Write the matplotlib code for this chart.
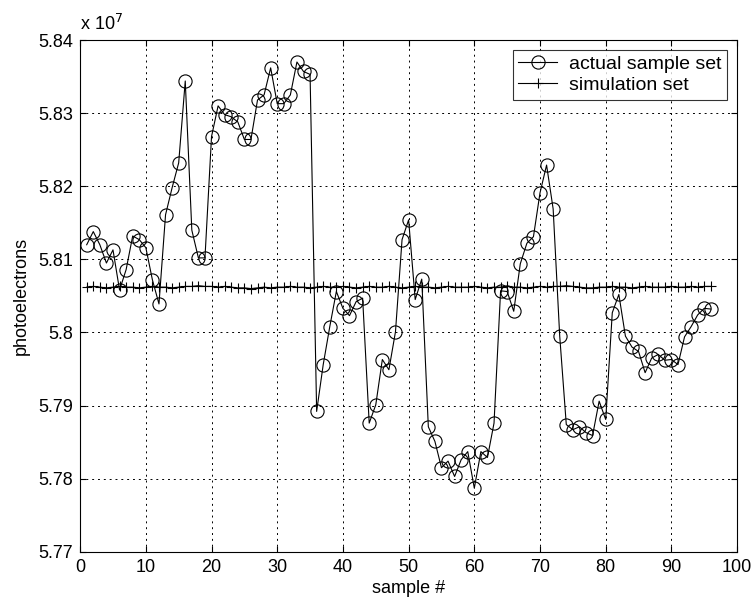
import numpy as np
import matplotlib.pyplot as plt

plt.rcParams['font.family'] = ['Liberation Sans', 'DejaVu Sans']

# values in units of 1e7 photoelectrons
sample = list(range(1, 97))
actual = [5.8120, 5.8138, 5.8120, 5.8095, 5.8113, 5.8058, 5.8086, 5.8132, 5.8127, 5.8116,
          5.8072, 5.8039, 5.8161, 5.8198, 5.8232, 5.8344, 5.8140, 5.8102, 5.8102, 5.8268,
          5.8310, 5.8298, 5.8295, 5.8288, 5.8264, 5.8264, 5.8318, 5.8325, 5.8362, 5.8313,
          5.8313, 5.8325, 5.8370, 5.8357, 5.8353, 5.7892, 5.7956, 5.8008, 5.8056, 5.8033,
          5.8023, 5.8042, 5.8047, 5.7876, 5.7901, 5.7963, 5.7949, 5.8001, 5.8127, 5.8154,
          5.8045, 5.8073, 5.7871, 5.7851, 5.7815, 5.7824, 5.7803, 5.7826, 5.7837, 5.7787,
          5.7837, 5.7829, 5.7876, 5.8057, 5.8056, 5.8029, 5.8094, 5.8122, 5.8131, 5.8191,
          5.8229, 5.8169, 5.7995, 5.7874, 5.7867, 5.7871, 5.7863, 5.7859, 5.7906, 5.7881,
          5.8027, 5.8052, 5.7995, 5.7980, 5.7974, 5.7945, 5.7965, 5.7970, 5.7962, 5.7963,
          5.7956, 5.7994, 5.8008, 5.8024, 5.8033, 5.8032]
simulation = [5.8062, 5.8063, 5.8062, 5.8061, 5.8062, 5.8063, 5.8062, 5.8062, 5.8061, 5.8062,
              5.8063, 5.8062, 5.8062, 5.8061, 5.8062, 5.8063, 5.8063, 5.8064, 5.8063, 5.8063,
              5.8062, 5.8063, 5.8062, 5.8061, 5.8061, 5.8060, 5.8061, 5.8062, 5.8061, 5.8062,
              5.8062, 5.8063, 5.8062, 5.8062, 5.8061, 5.8062, 5.8063, 5.8062, 5.8062, 5.8063,
              5.8062, 5.8061, 5.8062, 5.8063, 5.8062, 5.8062, 5.8063, 5.8062, 5.8061, 5.8062,
              5.8063, 5.8062, 5.8062, 5.8061, 5.8062, 5.8063, 5.8062, 5.8062, 5.8062, 5.8063,
              5.8062, 5.8061, 5.8062, 5.8062, 5.8063, 5.8062, 5.8062, 5.8061, 5.8062, 5.8063,
              5.8062, 5.8063, 5.8063, 5.8064, 5.8063, 5.8062, 5.8061, 5.8061, 5.8062, 5.8062,
              5.8063, 5.8062, 5.8062, 5.8061, 5.8062, 5.8063, 5.8062, 5.8062, 5.8062, 5.8063,
              5.8062, 5.8062, 5.8063, 5.8062, 5.8063, 5.8063]

fig = plt.figure(figsize=(7.56, 6.07), dpi=100)
ax = fig.add_axes([0.106, 0.091, 0.869, 0.843])

ax.plot(sample, actual, color='black', lw=0.8, marker='o', ms=9.5,
        mfc='none', mec='black', mew=0.8, label='actual sample set')
ax.plot(sample, simulation, color='black', lw=0.8, marker='+', ms=7,
        mew=0.8, label='simulation set')

ax.set_xlim(0, 100)
ax.set_ylim(5.77, 5.84)
ax.set_xticks(np.arange(0, 101, 10))
ax.set_yticks(np.arange(5.77, 5.8401, 0.01))
ax.set_yticklabels(['5.77', '5.78', '5.79', '5.8', '5.81', '5.82', '5.83', '5.84'])
ax.tick_params(direction='in', labelsize=13, top=True, right=True, length=4, pad=5)
ax.grid(True, color='black', ls=(0, (2, 4)), lw=0.7)

ax.set_xlabel('sample #', fontsize=13, labelpad=3)
ax.set_ylabel('photoelectrons', fontsize=13, labelpad=6)
ax.text(0.0, 1.012, r'x 10$^7$', transform=ax.transAxes, fontsize=13, ha='left', va='bottom')

leg = ax.legend(loc='upper right', fontsize=14, frameon=True, fancybox=False,
                edgecolor='black', borderaxespad=0.5, handlelength=2.0,
                borderpad=0.3, labelspacing=0.15, handletextpad=0.6)
leg.get_frame().set_linewidth(0.8)

fig.savefig('out.png', dpi=100)
